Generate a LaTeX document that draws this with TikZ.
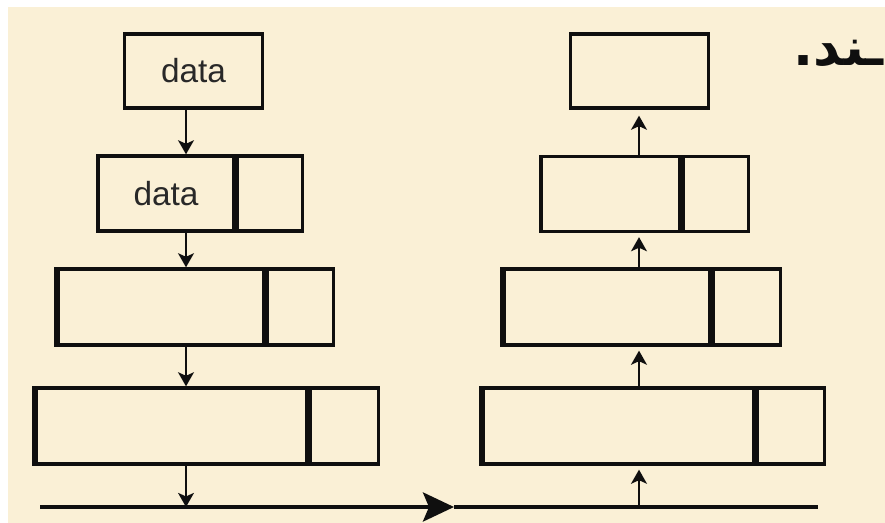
\documentclass[tikz,border=0pt]{standalone}
\usepackage{fontspec}
\setmainfont{Liberation Sans}
\newfontfamily\arabicfont[Script=Arabic]{DejaVu Sans}
\TeXXeTstate=1
\usepackage{tikz}
\usetikzlibrary{positioning,arrows.meta}
\usepackage{xcolor}
\definecolor{paper}{RGB}{250,240,214}
\definecolor{ink}{RGB}{15,15,15}
\definecolor{label}{RGB}{40,40,40}

\tikzset{
    cell/.style={rectangle,draw=ink,line width=1.9pt,inner sep=0pt,minimum height=1.5cm},
    thickedge/.style={draw=ink,line width=3.2pt},
    flow/.style={draw=ink,line width=1.3pt,-{Stealth[length=8pt,width=9pt,inset=2pt]}},
    timeline/.style={draw=ink,line width=2.4pt}
}

\begin{document}
\begin{tikzpicture}[x=0.02cm,y=-0.02cm]
        \clip (0,0) rectangle (885,523);
        \fill[white] (0,0) rectangle (885,523);
        \fill[paper] (8,7) rectangle (885,523);

        % arrow axes
        \coordinate (axisL) at (186,0);
        \coordinate (axisR) at (639,0);

        % Sending side
        \node[cell,minimum width=2.76cm,minimum height=1.48cm,font=\fontsize{19}{22}\selectfont,text=label] (L1) at (193.5,71) {data};
        \node[cell,minimum width=2.72cm,font=\fontsize{19}{22}\selectfont,text=label] (L2main) at (166,193.5) {data};
        \node[cell,minimum width=1.30cm,right=0pt of L2main] (L2tail) {};
        \node[cell,minimum width=4.12cm,minimum height=1.52cm] (L3main) at (161,307) {};
        \node[cell,minimum width=1.32cm,minimum height=1.52cm,right=0pt of L3main] (L3tail) {};
        \node[cell,minimum width=5.42cm,minimum height=1.52cm] (L4main) at (171.5,426) {};
        \node[cell,minimum width=1.36cm,minimum height=1.52cm,right=0pt of L4main] (L4tail) {};
        \draw[thickedge] (L3main.north west) -- (L3main.south west);
        \draw[thickedge] (L3main.north east) -- (L3main.south east);
        \draw[thickedge] (L4main.north west) -- (L4main.south west);
        \draw[thickedge] (L4main.north east) -- (L4main.south east);

        % Receiving side
        \node[cell,minimum width=2.76cm,minimum height=1.48cm] (R1) at (639.5,71) {};
        \node[cell,minimum width=2.78cm] (R2main) at (610.5,194) {};
        \node[cell,minimum width=1.30cm,right=0pt of R2main] (R2tail) {};
        \node[cell,minimum width=4.12cm,minimum height=1.52cm] (R3main) at (607,307) {};
        \node[cell,minimum width=1.34cm,minimum height=1.52cm,right=0pt of R3main] (R3tail) {};
        \node[cell,minimum width=5.42cm,minimum height=1.52cm] (R4main) at (618.5,426) {};
        \node[cell,minimum width=1.34cm,minimum height=1.52cm,right=0pt of R4main] (R4tail) {};
        \draw[thickedge] (R3main.north west) -- (R3main.south west);
        \draw[thickedge] (R3main.north east) -- (R3main.south east);
        \draw[thickedge] (R4main.north west) -- (R4main.south west);
        \draw[thickedge] (R4main.north east) -- (R4main.south east);

        % Medium
        \coordinate (wireL) at (40,507);
        \coordinate (wireM) at (454,507);
        \coordinate (wireR) at (818,507);
        \draw[timeline,-{Stealth[length=0.62cm,width=0.58cm,inset=0.12cm]}] (wireL) -- (wireM);
        \draw[timeline] (wireM) -- (wireR);

        % Down the stack
        \draw[flow] (L1.south -| axisL) -- (L2main.north -| axisL);
        \draw[flow] (L2main.south -| axisL) -- (L3main.north -| axisL);
        \draw[flow] (L3main.south -| axisL) -- (L4main.north -| axisL);
        \draw[flow] (L4main.south -| axisL) -- (axisL |- wireL);

        % Up the stack
        \draw[flow,shorten >=0.08cm] (axisR |- wireL) -- (R4main.south -| axisR);
        \draw[flow,shorten >=0.08cm] (R4main.north -| axisR) -- (R3main.south -| axisR);
        \draw[flow,shorten >=0.08cm] (R3main.north -| axisR) -- (R2main.south -| axisR);
        \draw[flow,shorten >=0.12cm] (R2main.north -| axisR) -- (R1.south -| axisR);

        % Caption
        \node[anchor=base east,inner sep=0pt,text=ink,font=\arabicfont\bfseries\fontsize{30}{35}\selectfont] (caption) at (884,66) {\beginR ـند.\endR};
    \end{tikzpicture}
\end{document}
